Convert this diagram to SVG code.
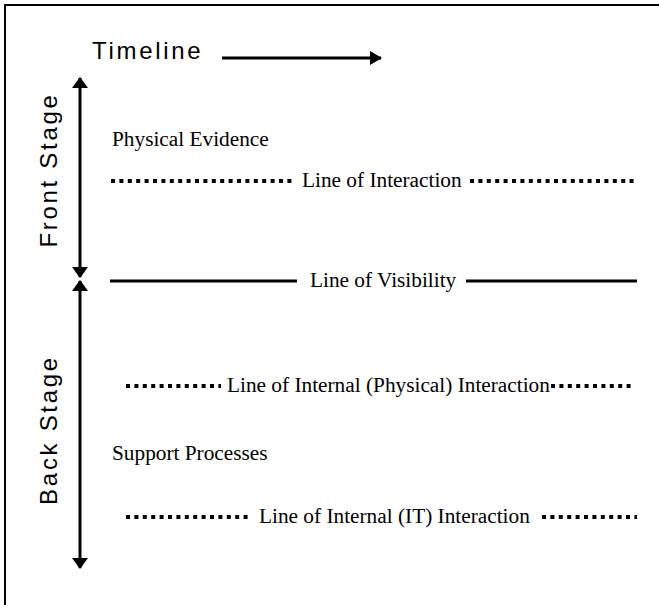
<svg xmlns="http://www.w3.org/2000/svg" width="659" height="605" viewBox="0 0 659 605">
  <style>
    .sans { font-family: "Liberation Sans", Arial, sans-serif; font-size: 24px; letter-spacing: 2.7px; fill: #000; }
    .serif { font-family: "Liberation Serif", "Times New Roman", serif; font-size: 21.3px; fill: #000; }
    .solid { stroke: #000; stroke-width: 3; fill: none; }
    .dotted { stroke: #000; stroke-width: 4; stroke-dasharray: 4 4.4; fill: none; }
  </style>
  <defs>
    <marker id="head" viewBox="0 0 12 14" refX="11" refY="7" markerWidth="12" markerHeight="14" markerUnits="userSpaceOnUse" orient="auto">
      <path d="M0 0 L12 7 L0 14 Z" fill="#000"/>
    </marker>
    <marker id="head-v" viewBox="0 0 11 16" refX="10" refY="8" markerWidth="11" markerHeight="16" markerUnits="userSpaceOnUse" orient="auto">
      <path d="M0 0 L11 8 L0 16 Z" fill="#000"/>
    </marker>
  </defs>

  <rect width="659" height="605" fill="#fff"/>
  <!-- frame: top and left edges only -->
  <path d="M5 605 V5 H659" stroke="#000" stroke-width="2" fill="none"/>

  <g id="timeline">
    <text class="sans" x="92" y="59">Timeline</text>
  </g>

  <g id="front-stage">
    <text class="sans" transform="translate(57 170) rotate(-90)" text-anchor="middle">Front Stage</text>
  </g>

  <g id="back-stage">
    <text class="sans" transform="translate(57 430) rotate(-90)" text-anchor="middle">Back Stage</text>
  </g>

  <g id="physical-evidence">
    <text class="serif" x="112" y="146">Physical Evidence</text>
  </g>

  <g id="line-of-interaction">
    <line class="dotted" x1="111" y1="181" x2="294" y2="181"/>
    <text class="serif" x="302" y="187">Line of Interaction</text>
    <line class="dotted" x1="470" y1="181" x2="636" y2="181"/>
  </g>

  <g id="line-of-visibility">
    <line class="solid" x1="110" y1="281" x2="297" y2="281"/>
    <text class="serif" x="310" y="287">Line of Visibility</text>
    <line class="solid" x1="466" y1="281" x2="637" y2="281"/>
  </g>

  <g id="line-of-internal-physical">
    <line class="dotted" x1="126" y1="386" x2="221" y2="386"/>
    <text class="serif" x="227" y="392">Line of Internal (Physical) Interaction</text>
    <line class="dotted" x1="551" y1="386" x2="635" y2="386"/>
  </g>

  <g id="support-processes">
    <text class="serif" x="112" y="460">Support Processes</text>
  </g>

  <g id="line-of-internal-it">
    <line class="dotted" x1="126" y1="517" x2="249" y2="517"/>
    <text class="serif" x="259" y="523">Line of Internal (IT) Interaction</text>
    <line class="dotted" x1="542" y1="517" x2="637" y2="517"/>
  </g>

  <g id="connectors">
    <line class="solid" x1="222" y1="58" x2="381" y2="58" marker-end="url(#head)"/>
    <line class="solid" x1="80" y1="176" x2="80" y2="78" marker-end="url(#head-v)"/>
    <line class="solid" x1="80" y1="176" x2="80" y2="277" marker-end="url(#head-v)"/>
    <line class="solid" x1="80" y1="420" x2="80" y2="281" marker-end="url(#head-v)"/>
    <line class="solid" x1="80" y1="420" x2="80" y2="568" marker-end="url(#head-v)"/>
  </g>
</svg>
